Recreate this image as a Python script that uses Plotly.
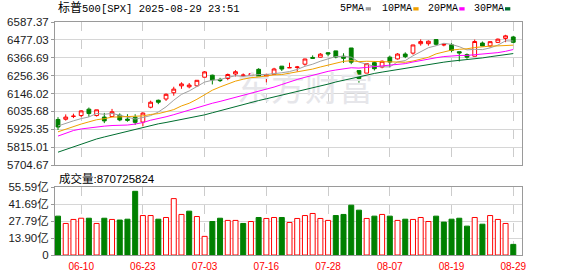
import plotly.graph_objects as go
import pandas as pd

# ---------------- data ----------------
dates = ["06-05","06-06","06-09","06-10","06-11","06-12","06-13","06-16","06-17","06-18",
         "06-20","06-23","06-24","06-25","06-26","06-27","06-30","07-01","07-02","07-03",
         "07-07","07-08","07-09","07-10","07-11","07-14","07-15","07-16","07-17","07-18",
         "07-21","07-22","07-23","07-24","07-25","07-28","07-29","07-30","07-31","08-01",
         "08-04","08-05","08-06","08-07","08-08","08-11","08-12","08-13","08-14","08-15",
         "08-18","08-19","08-20","08-21","08-22","08-25","08-26","08-27","08-28","08-29"]

opens = [5985.67,5987.06,6004.60,6009.91,6049.38,6009.90,6000.56,6004.00,6012.15,5987.93,
         5999.67,5969.67,6061.21,6104.19,6112.10,6150.70,6193.36,6187.25,6193.36,6246.45,
         6259.00,6233.07,6238.51,6266.32,6255.68,6255.15,6295.30,6252.33,6263.78,6314.87,
         6304.74,6306.60,6326.90,6368.60,6370.01,6397.69,6409.13,6376.10,6427.02,6287.28,
         6271.71,6336.41,6309.36,6370.23,6359.46,6389.67,6395.17,6453.45,6453.60,6478.86,
         6445.02,6446.59,6404.04,6386.29,6375.99,6457.67,6440.00,6461.62,6486.00,6495.00]
highs = [5999.70,6016.87,6021.31,6043.01,6059.40,6045.43,6026.16,6050.83,6023.25,6018.25,
         6018.20,6028.81,6101.80,6108.51,6146.52,6187.68,6215.08,6210.78,6227.60,6284.65,
         6262.47,6242.70,6269.18,6290.22,6269.78,6272.34,6302.04,6268.33,6304.61,6315.61,
         6336.08,6316.12,6360.64,6381.31,6395.82,6401.07,6409.26,6394.34,6427.02,6287.28,
         6330.16,6343.86,6350.28,6379.95,6395.16,6400.22,6446.55,6480.28,6473.72,6481.34,
         6455.35,6456.48,6404.04,6393.20,6478.92,6466.89,6466.96,6485.39,6508.23,6502.00]
lows = [5921.20,5978.63,5994.18,6000.26,6002.32,6003.88,5963.21,6004.00,5974.80,5971.89,
        5952.56,5943.23,6054.59,6080.16,6100.09,6132.35,6174.97,6177.97,6188.29,6246.45,
        6201.90,6217.03,6228.39,6251.08,6245.03,6241.02,6241.98,6214.98,6263.78,6285.10,
        6303.79,6281.71,6317.49,6360.57,6368.53,6375.38,6363.05,6334.95,6326.84,6212.69,
        6271.71,6287.97,6301.71,6307.14,6355.97,6364.27,6385.76,6441.40,6441.42,6441.79,
        6437.26,6400.22,6343.87,6360.02,6375.99,6438.06,6429.32,6457.51,6462.68,6457.00]
closes = [5939.30,6000.36,6005.88,6038.81,6022.24,6045.26,5976.97,6033.11,5982.72,5980.87,
          5967.84,6025.17,6092.18,6092.16,6141.02,6173.07,6204.95,6198.01,6227.42,6279.35,
          6229.98,6225.52,6263.26,6280.46,6259.75,6268.56,6243.76,6263.70,6297.36,6296.79,
          6305.60,6309.62,6358.91,6363.35,6388.64,6389.77,6370.86,6362.90,6339.39,6238.01,
          6329.94,6299.19,6345.06,6340.00,6389.45,6373.45,6445.76,6466.58,6468.54,6449.80,
          6449.15,6411.37,6395.78,6370.17,6466.91,6439.32,6465.94,6481.40,6501.86,6462.00]
# closes of the 29 sessions before the first bar (warm-up for the moving averages)
prior_closes = [5484.77,5525.21,5528.75,5560.83,5569.06,5604.14,5686.67,5650.38,5606.91,5631.28,
                5663.94,5659.91,5844.19,5886.55,5892.58,5916.93,5958.38,5963.60,5940.46,5844.61,
                5842.01,5802.82,5921.54,5888.55,5912.17,5911.69,5935.94,5970.37,5970.81]

volumes = [31.9,25.9,29.2,30.2,30.2,25.9,30.2,29.2,28.7,29.4,
           52.3,32.4,32.4,29.4,30.8,46.3,33.3,36.0,31.6,15.3,
           27.5,30.2,28.4,28.4,25.9,27.5,30.8,30.0,30.8,30.8,
           26.7,30.0,32.4,34.1,30.0,28.4,32.4,33.3,40.9,36.8,
           30.0,31.9,33.3,31.9,28.4,29.4,29.2,30.8,27.5,31.9,
           27.0,29.4,30.2,23.7,30.8,25.3,32.4,29.2,25.9,8.71]
vol_up = [0,1,1,1,0,1,0,1,0,0, 0,1,1,0,1,1,1,0,1,1, 0,0,1,1,0,1,0,1,1,0,
          1,1,1,1,1,1,0,0,0,0, 1,0,1,0,1,0,1,1,1,0, 0,0,0,0,1,0,1,1,1,0]

y_tick_labels = ["6587.37","6477.03","6366.69","6256.36","6146.02","6035.68","5925.35","5815.01","5704.67"]
vol_tick_labels = ["55.59亿","41.69亿","27.79亿","13.90亿","0"]
x_tick_labels = ["06-10","06-23","07-03","07-16","07-28","08-07","08-19","08-29"]
ma_periods = [5, 10, 20, 30]
ma_names = ["5PMA", "10PMA", "20PMA", "30PMA"]
ma_colors = ["#a0a0a0", "#f0a000", "#ff00ff", "#006e30"]
title_text = "标普500[SPX] 2025-08-29 23:51"
volume_text = "成交量:870725824"

RED = "#ff0000"
GREEN = "#008000"

# ---------------- geometry helpers ----------------
W_FIG, H_FIG = 578, 276
L, R, T, B = 55, 56, 22, 21
PW, PH = W_FIG - L - R, H_FIG - T - B

def pxx(x):
    return (x - L) / PW

def pxy(y):
    return (T + PH - y) / PH

# ---------------- figure ----------------
fig = go.Figure()

fig.add_trace(go.Candlestick(
    x=dates, open=opens, high=highs, low=lows, close=closes,
    increasing=dict(line=dict(color=RED, width=1), fillcolor="#ffffff"),
    decreasing=dict(line=dict(color=GREEN, width=1), fillcolor=GREEN),
    whiskerwidth=0, showlegend=False, xaxis="x", yaxis="y"))

# watermark (beneath the moving-average lines)
fig.add_trace(go.Scatter(x=["07-23"], y=[6151], mode="text", text=["东方财富"],
                         textfont=dict(size=34, color="#e6e6ea", family="Noto Sans CJK SC"),
                         hoverinfo="skip", showlegend=False, xaxis="x", yaxis="y"))

all_closes = pd.Series(prior_closes + closes)
for p, name, col in zip(ma_periods, ma_names, ma_colors):
    ma = all_closes.rolling(p).mean().iloc[len(prior_closes):].tolist()
    fig.add_trace(go.Scatter(x=dates, y=ma, mode="lines", name=name,
                             line=dict(color=col, width=1), showlegend=False,
                             xaxis="x", yaxis="y"))

fig.add_trace(go.Bar(
    x=dates, y=volumes,
    marker=dict(color=["#ffffff" if u else GREEN for u in vol_up],
                line=dict(color=[RED if u else GREEN for u in vol_up], width=1)),
    showlegend=False, xaxis="x2", yaxis="y2"))

y_vals = [float(s) for s in y_tick_labels]
vol_vals = [float(s.replace("亿", "")) for s in vol_tick_labels]

axis_font = dict(family="Liberation Sans, Noto Sans CJK SC, sans-serif", size=11.5, color="#1a1a1a")
frame = "#9a9a9a"
grid = "#d6d6d6"
x_range = [-0.39, 60.13]

fig.update_layout(
    width=W_FIG, height=H_FIG,
    margin=dict(l=L, r=R, t=T, b=B, autoexpand=False),
    paper_bgcolor="#ffffff", plot_bgcolor="#ffffff",
    bargap=0.35, boxgap=0.3,
    xaxis=dict(domain=[0, 1], anchor="y", type="category", range=x_range,
               categoryorder="array", categoryarray=dates, automargin=False,
               tickvals=x_tick_labels, showticklabels=False, ticks="",
               showgrid=True, gridcolor="#cccccc", griddash="dash", gridwidth=1,
               showline=True, linecolor=frame, linewidth=1, mirror=True,
               rangeslider=dict(visible=False), zeroline=False),
    yaxis=dict(domain=[pxy(165), 1], anchor="x", range=[min(y_vals), max(y_vals)],
               tickvals=y_vals, ticktext=y_tick_labels, tickfont=axis_font, automargin=False,
               ticks="outside", ticklen=3, tickcolor=frame,
               showgrid=True, gridcolor=grid, gridwidth=1,
               showline=True, linecolor=frame, linewidth=1, mirror=True, zeroline=False),
    xaxis2=dict(domain=[0, 1], anchor="y2", type="category", range=x_range,
                categoryorder="array", categoryarray=dates, matches="x", automargin=False,
                tickvals=x_tick_labels, ticktext=x_tick_labels,
                ticks="outside", ticklen=2, tickcolor="rgba(0,0,0,0)",
                tickfont=dict(family="Liberation Sans, Arial, sans-serif", size=10, color=RED),
                showgrid=True, gridcolor="#cccccc", griddash="dash", gridwidth=1,
                showline=True, linecolor=frame, linewidth=1, mirror=True, zeroline=False),
    yaxis2=dict(domain=[0, pxy(187.3)], anchor="x2", range=[0, max(vol_vals)],
                tickvals=vol_vals, ticktext=vol_tick_labels, tickfont=axis_font, automargin=False,
                ticks="outside", ticklen=3, tickcolor=frame,
                showgrid=True, gridcolor=grid, gridwidth=1,
                showline=True, linecolor=frame, linewidth=1, mirror=True, zeroline=False),
)

mono = "Liberation Mono, Noto Sans CJK SC, monospace"
annotations = []
shapes = []
# title
t_html = '<span style="font-size:12px">' + title_text[:2] + '</span>' + title_text[2:]
annotations.append(dict(xref="paper", yref="paper", x=pxx(56), y=pxy(8.5), xanchor="left",
                        yanchor="middle", text=t_html, showarrow=False,
                        font=dict(family=mono, size=10.5, color="#000000")))
# legend
legend_pos = [(338.3, 365.7), (380.0, 413.3), (425.7, 459.3), (471.7, 505.0)]
for (tx, sx), name, col in zip(legend_pos, ma_names, ma_colors):
    annotations.append(dict(xref="paper", yref="paper", x=pxx(tx), y=pxy(8.5), xanchor="left",
                            yanchor="middle", text=name, showarrow=False,
                            font=dict(family=mono, size=10, color="#000000")))
    shapes.append(dict(type="rect", xref="paper", yref="paper",
                       x0=pxx(sx), x1=pxx(sx + 5.3), y0=pxy(10.5), y1=pxy(7.2),
                       fillcolor=col, line=dict(width=0)))
# volume caption
annotations.append(dict(xref="paper", yref="paper", x=pxx(57), y=pxy(178), xanchor="left",
                        yanchor="middle", text=volume_text, showarrow=False,
                        font=dict(family="Liberation Sans, Noto Sans CJK SC, sans-serif",
                                  size=11.5, color="#000000")))
fig.update_layout(annotations=annotations, shapes=shapes)

fig.write_html("out.html")
